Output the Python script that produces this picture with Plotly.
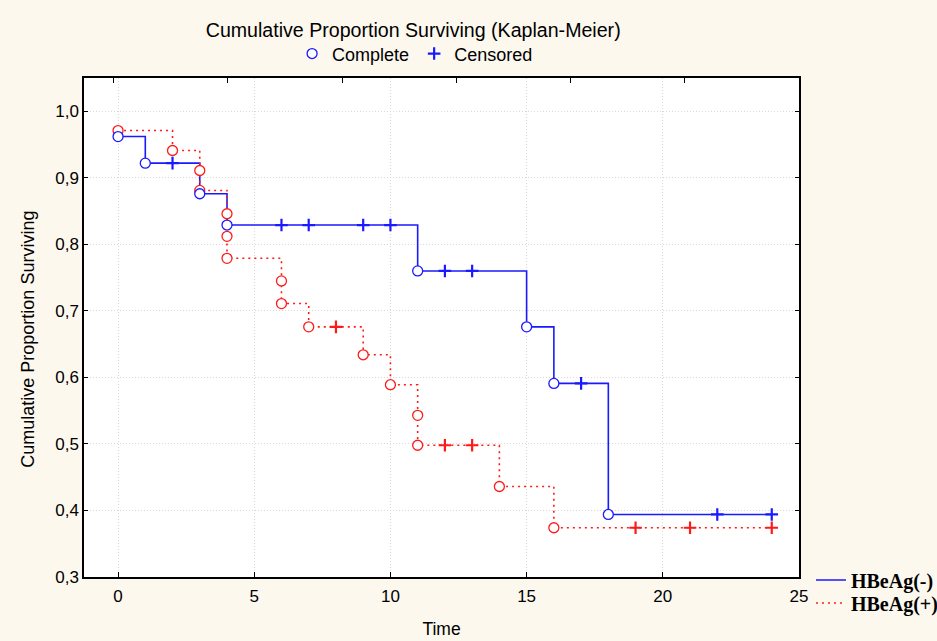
import plotly.graph_objects as go

# HBeAg(-) : time, survival, censored flag (1 = censored)
neg_time = [0, 1, 2, 3, 4, 6, 7, 9, 10, 11, 12, 13, 15, 16, 17, 18, 22, 24]
neg_surv = [0.962, 0.922, 0.922, 0.876, 0.829, 0.829, 0.829, 0.829, 0.829,
            0.760, 0.760, 0.760, 0.676, 0.591, 0.591, 0.394, 0.394, 0.394]
neg_cens = [0, 0, 1, 0, 0, 1, 1, 1, 1, 0, 1, 1, 0, 0, 1, 0, 1, 1]

# HBeAg(+)
pos_time = [0, 2, 3, 3, 4, 4, 4, 6, 6, 7, 8, 9, 10, 11, 11, 12, 13, 14, 16, 19, 21, 24]
pos_surv = [0.971, 0.941, 0.911, 0.881, 0.846, 0.812, 0.779, 0.745, 0.711, 0.676,
            0.676, 0.634, 0.589, 0.543, 0.498, 0.498, 0.498, 0.436, 0.374, 0.374,
            0.374, 0.374]
pos_cens = [0, 0, 0, 0, 0, 0, 0, 0, 0, 0, 1, 0, 0, 0, 0, 1, 1, 0, 0, 1, 1, 1]

x_ticks = [0, 5, 10, 15, 20, 25]
y_ticks = [0.3, 0.4, 0.5, 0.6, 0.7, 0.8, 0.9, 1.0]

BLUE = "#1a1aff"
RED = "#ff1a1a"
BG = "#fdf8ee"
FONT = "Liberation Sans, Arial, sans-serif"
SERIF = "Liberation Serif, Times New Roman, serif"

fig = go.Figure()


def split(t, s, c, flag):
    return ([a for a, f in zip(t, c) if f == flag], [b for b, f in zip(s, c) if f == flag])


# lines
fig.add_trace(go.Scatter(x=neg_time, y=neg_surv, mode="lines", line_shape="hv",
                         line=dict(color=BLUE, width=1.6), name="HBeAg(-)",
                         legend="legend2"))
fig.add_trace(go.Scatter(x=pos_time, y=pos_surv, mode="lines", line_shape="hv",
                         line=dict(color=RED, width=1.6, dash="2px,4px"), name="HBeAg(+)",
                         legend="legend3"))

# markers
for t, s, c, col, show in [(pos_time, pos_surv, pos_cens, RED, False),
                           (neg_time, neg_surv, neg_cens, BLUE, True)]:
    xc, yc = split(t, s, c, 0)
    fig.add_trace(go.Scatter(x=xc, y=yc, mode="markers", name="Complete",
                             marker=dict(symbol="circle", size=10, color="white",
                                         line=dict(width=1.3, color=col)),
                             showlegend=show, legend="legend"))
    xx, yy = split(t, s, c, 1)
    fig.add_trace(go.Scatter(x=xx, y=yy, mode="markers", name="Censored",
                             marker=dict(symbol="cross-thin-open", size=9, color=col,
                                         line=dict(width=2.2, color=col)),
                             showlegend=show, legend="legend"))

# secondary top axis (for its own tick marks only)
fig.add_trace(go.Scatter(x=[None], y=[None], xaxis="x2", showlegend=False,
                         hoverinfo="skip"))

leg_common = dict(xref="container", yref="container", bgcolor="rgba(0,0,0,0)",
                  itemwidth=30, tracegroupgap=0)

fig.update_layout(
    width=937, height=641,
    margin=dict(l=84, r=138, t=78, b=64, autoexpand=False),
    paper_bgcolor=BG, plot_bgcolor="white",
    separators=", ",
    font=dict(family=FONT, size=16, color="black"),
    title=dict(text="Cumulative Proportion Surviving (Kaplan-Meier)",
               xref="container", yref="container",
               x=0.441, xanchor="center", y=0.953, yanchor="middle",
               font=dict(family=FONT, size=19.6, color="black")),
    xaxis=dict(range=[-1.25, 25], tickvals=x_ticks, ticks="inside", ticklen=5,
               tickcolor="black", showline=True, linecolor="black", linewidth=1.5,
               mirror=False, showgrid=True, gridcolor="#d9d9d9", griddash="1px,2px",
               gridwidth=1, zeroline=False, ticklabelstandoff=3,
               title=dict(text="Time", standoff=18, font=dict(size=17.5)),
               tickfont=dict(size=17)),
    xaxis2=dict(overlaying="x", side="top", range=[-0.26, 6], dtick=1, tick0=0,
                ticks="inside", ticklen=5, tickcolor="black", showticklabels=False,
                showgrid=False, zeroline=False, showline=True, linecolor="black",
                linewidth=1.5),
    yaxis=dict(range=[0.3, 1.05], tickvals=y_ticks, tickformat=".1f", ticks="inside",
               ticklen=4, tickcolor="black", showline=True, linecolor="black",
               linewidth=1.5, mirror="ticks", showgrid=True, gridcolor="#d9d9d9",
               griddash="1px,2px", gridwidth=1, zeroline=False,
               tickfont=dict(size=17)),
    annotations=[dict(text="Cumulative Proportion Surviving", textangle=-90,
                      xref="paper", yref="paper", x=-0.078, y=0.476,
                      xanchor="center", yanchor="middle", showarrow=False,
                      font=dict(family=FONT, size=18, color="black"))],
    legend=dict(orientation="h", x=0.443, xanchor="center", y=0.916, yanchor="middle",
                font=dict(family=FONT, size=18), **leg_common),
    legend2=dict(x=0.8655, xanchor="left", y=(641 - 580) / 641, yanchor="middle",
                 font=dict(family=SERIF, size=20, weight="bold"), **leg_common),
    legend3=dict(x=0.8655, xanchor="left", y=(641 - 603) / 641, yanchor="middle",
                 font=dict(family=SERIF, size=20, weight="bold"), **leg_common),
    showlegend=True,
)

fig.write_html("out.html")
